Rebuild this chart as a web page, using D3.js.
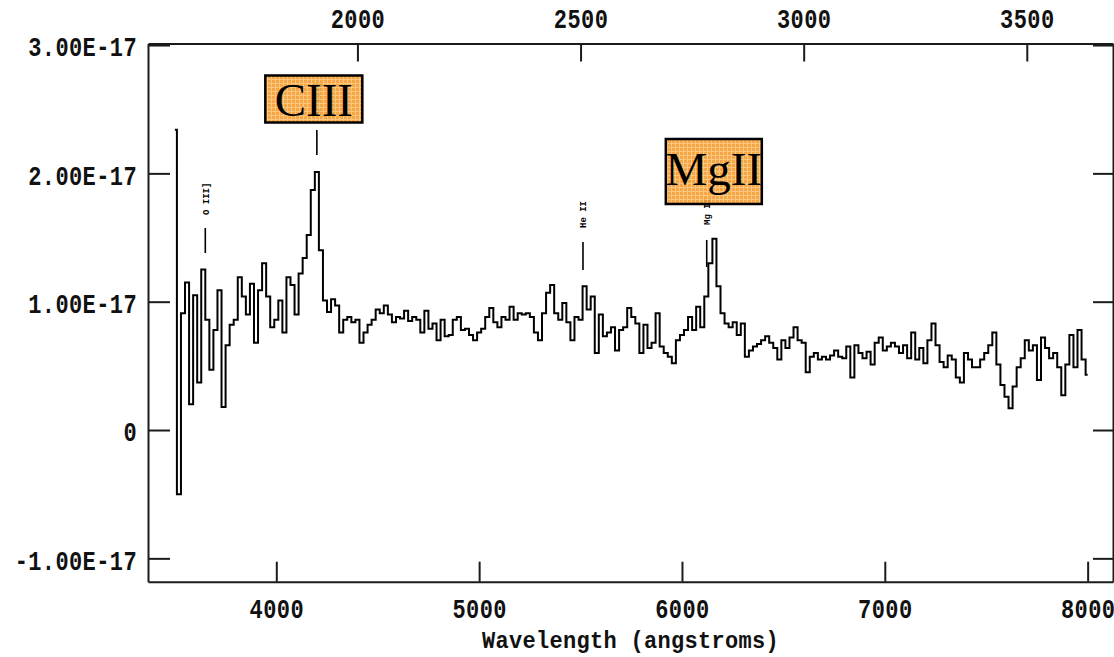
<!DOCTYPE html>
<html>
<head>
<meta charset="utf-8">
<script src="https://cdn.jsdelivr.net/npm/d3@7"></script>
<style>
  html, body { margin: 0; padding: 0; background: #fff; }
  svg { display: block; }
</style>
</head>
<body>
<svg id="chart" width="1114" height="657"></svg>
<script>
// ---- spectrum: flux in units of 1e-17, binned every 20 Å from 3500 Å ----
const binStart = 3500;
const binWidth = 20;
const flux = [
  2.34, -0.50, 0.91, 1.15, 0.20, 1.05, 0.37, 1.25, 0.86, 0.47,
  0.78, 1.09, 0.18, 0.66, 0.82, 0.86, 1.19, 1.04, 0.90, 1.14,
  0.68, 1.09, 1.30, 1.04, 0.80, 0.86, 1.01, 0.76, 1.19, 1.13,
  0.90, 1.22, 1.34, 1.52, 1.87, 2.01, 1.40, 1.01, 0.92, 1.02,
  0.97, 0.76, 0.86, 0.88, 0.84, 0.86, 0.68, 0.76, 0.82, 0.86,
  0.94, 0.91, 0.97, 0.90, 0.84, 0.88, 0.87, 0.93, 0.85, 0.88,
  0.86, 0.76, 0.93, 0.79, 0.83, 0.70, 0.86, 0.73, 0.74, 0.86,
  0.88, 0.78, 0.79, 0.74, 0.70, 0.76, 0.79, 0.88, 0.95, 0.84,
  0.80, 0.88, 0.86, 0.96, 0.86, 0.91, 0.90, 0.91, 0.88, 0.76,
  0.70, 0.91, 1.07, 1.13, 0.91, 0.86, 0.99, 0.84, 0.70, 0.88,
  0.86, 1.12, 0.94, 1.04, 0.60, 0.90, 0.73, 0.76, 0.80, 0.62,
  0.78, 0.80, 0.95, 0.88, 0.83, 0.60, 0.82, 0.64, 0.68, 0.91,
  0.65, 0.60, 0.57, 0.52, 0.70, 0.74, 0.78, 0.88, 0.78, 0.96,
  0.80, 1.04, 1.30, 1.49, 1.12, 0.91, 0.83, 0.80, 0.84, 0.74,
  0.83, 0.57, 0.62, 0.65, 0.67, 0.70, 0.73, 0.68, 0.64, 0.55,
  0.70, 0.64, 0.72, 0.80, 0.70, 0.68, 0.45, 0.57, 0.60, 0.55,
  0.57, 0.55, 0.58, 0.62, 0.57, 0.56, 0.65, 0.41, 0.66, 0.60,
  0.56, 0.61, 0.51, 0.68, 0.72, 0.62, 0.65, 0.68, 0.65, 0.60,
  0.66, 0.56, 0.76, 0.55, 0.64, 0.52, 0.70, 0.83, 0.66, 0.53,
  0.49, 0.58, 0.55, 0.41, 0.37, 0.60, 0.55, 0.49, 0.49, 0.55,
  0.60, 0.66, 0.76, 0.51, 0.35, 0.26, 0.17, 0.34, 0.49, 0.56,
  0.70, 0.62, 0.66, 0.39, 0.72, 0.64, 0.56, 0.60, 0.49, 0.27,
  0.51, 0.74, 0.49, 0.78, 0.55, 0.43
];
const redshift = 1.2;

// ---- axis ticks ----
const obsTicks = [4000, 5000, 6000, 7000, 8000];
const restTicks = [2000, 2500, 3000, 3500];
const fluxTicks = [3, 2, 1, 0, -1];
const fluxTickLabels = ["3.00E-17", "2.00E-17", "1.00E-17", "0", "-1.00E-17"];
const xTitle = "Wavelength (angstroms)";

// ---- emission-line markers (observed wavelength, Å) ----
const markerNames = ["O III]", "C III]", "He II", "Mg II"];
const markerWaves = [3650, 4200, 5512, 6122];
// highlighted line names
const calloutNames = ["CIII", "MgII"];
const calloutWaves = [4185, 6157];

// ---------------------------------------------------------------
const wavelength = flux.map((_, i) => binStart + i * binWidth);

const svg = d3.select("#chart");
const frame = { left: 148, right: 1113, top: 43.5, bottom: 581.7 };

const x = d3.scaleLinear().domain([3367.5, 8125]).range([frame.left, frame.right]);
const xRest = d3.scaleLinear()
  .domain(x.domain().map(d => d / (1 + redshift)))
  .range(x.range());
const y = d3.scaleLinear().domain([-1.182, 3.012]).range([frame.bottom, frame.top]);

const ink = "#1b1b1b";
const tickFont = "'Liberation Mono', 'DejaVu Sans Mono', monospace";

function styleAxis(g) {
  g.attr("font-family", null).attr("font-size", null);
  g.select(".domain").attr("stroke", ink).attr("stroke-width", 2);
  g.selectAll(".tick line").attr("stroke", ink).attr("stroke-width", 2);
}
function styleTickText(g, anchor, dx, cy) {
  g.selectAll(".tick text")
    .attr("x", null).attr("y", null)
    .attr("dy", "0.36em")
    .attr("text-anchor", anchor)
    .attr("transform", `translate(${dx},${cy}) scale(1,1.25)`)
    .attr("fill", "#111")
    .style("font-family", tickFont)
    .style("font-weight", "bold")
    .style("font-size", "22px")
    .style("letter-spacing", "0.4px");
}

// bottom axis: observed wavelength
svg.append("g")
  .attr("transform", `translate(0,${frame.bottom})`)
  .call(d3.axisBottom(x).tickValues(obsTicks).tickSizeInner(-20).tickSizeOuter(0)
        .tickFormat(d3.format("d")))
  .call(styleAxis)
  .call(g => styleTickText(g, "middle", 0, 26));

// top axis: rest-frame wavelength
svg.append("g")
  .attr("transform", `translate(0,${frame.top})`)
  .call(d3.axisTop(xRest).tickValues(restTicks).tickSizeInner(-18).tickSizeOuter(0)
        .tickFormat(d3.format("d")))
  .call(styleAxis)
  .call(g => styleTickText(g, "middle", 0, -25));

// left axis: flux
svg.append("g")
  .attr("transform", `translate(${frame.left},0)`)
  .call(d3.axisLeft(y).tickValues(fluxTicks).tickSizeInner(-22).tickSizeOuter(0)
        .tickFormat((d, i) => fluxTickLabels[i]))
  .call(styleAxis)
  .call(g => styleTickText(g, "end", -11, 1));

// right axis: ticks only
svg.append("g")
  .attr("transform", `translate(${frame.right},0)`)
  .call(d3.axisRight(y).tickValues(fluxTicks).tickSizeInner(-20).tickSizeOuter(0)
        .tickFormat(() => ""))
  .call(styleAxis);

// x title
svg.append("text")
  .attr("text-anchor", "middle")
  .attr("transform", `translate(${(frame.left + frame.right) / 2},640) scale(1,1.12)`)
  .attr("dy", "0.32em")
  .attr("fill", "#111")
  .style("font-family", tickFont)
  .style("font-weight", "bold")
  .style("font-size", "22px")
  .style("letter-spacing", "0.3px")
  .text(xTitle);

// spectrum as a step histogram
const spec = d3.line()
  .x(d => x(d[0]))
  .y(d => y(d[1]))
  .curve(d3.curveStep);
svg.append("path")
  .datum(wavelength.map((w, i) => [w, flux[i]]))
  .attr("d", spec)
  .attr("fill", "none")
  .attr("stroke", "#000")
  .attr("stroke-width", 2)
  .attr("stroke-linejoin", "miter");

// small rotated line IDs with marker ticks
const markerLayout = [
  { textBottom: 215, tick: [228, 253] },
  { textBottom: 114, tick: [130, 155] },
  { textBottom: 228, tick: [242, 270] },
  { textBottom: 225, tick: [240, 267] }
];
markerNames.forEach((name, i) => {
  const mx = x(markerWaves[i]);
  const L = markerLayout[i];
  svg.append("text")
    .attr("transform", `translate(${mx + 3.5},${L.textBottom}) rotate(-90)`)
    .attr("text-anchor", "start")
    .attr("fill", "#000")
    .style("font-family", tickFont)
    .style("font-weight", "bold")
    .style("font-size", "9px")
    .text(name);
  svg.append("line")
    .attr("x1", mx).attr("x2", mx)
    .attr("y1", L.tick[0]).attr("y2", L.tick[1])
    .attr("stroke", "#000").attr("stroke-width", 1.6);
});

// orange callout boxes
const defs = svg.append("defs");
const pat = defs.append("pattern")
  .attr("id", "calloutFill")
  .attr("width", 4).attr("height", 4)
  .attr("patternUnits", "userSpaceOnUse");
pat.append("rect").attr("width", 4).attr("height", 4).attr("fill", "#f59c30");
pat.append("rect").attr("x", 0).attr("y", 3).attr("width", 4).attr("height", 1).attr("fill", "#fbc070");
pat.append("rect").attr("x", 3).attr("y", 0).attr("width", 1).attr("height", 4).attr("fill", "#fbc070");

const calloutLayout = [
  { top: 75.5, height: 47, width: 97, baseline: 115.5 },
  { top: 139, height: 65, width: 96, baseline: 185 }
];
calloutNames.forEach((name, i) => {
  const cx = x(calloutWaves[i]);
  const L = calloutLayout[i];
  svg.append("rect")
    .attr("x", cx - L.width / 2).attr("y", L.top)
    .attr("width", L.width).attr("height", L.height)
    .attr("fill", "url(#calloutFill)")
    .attr("fill-opacity", 0.9)
    .attr("stroke", "#000").attr("stroke-width", 2.5);
  svg.append("text")
    .attr("x", cx).attr("y", L.baseline)
    .attr("text-anchor", "middle")
    .attr("fill", "#000")
    .style("font-family", "'Liberation Serif', 'Times New Roman', serif")
    .style("font-size", "47px")
    .text(name);
});
</script>
</body>
</html>
